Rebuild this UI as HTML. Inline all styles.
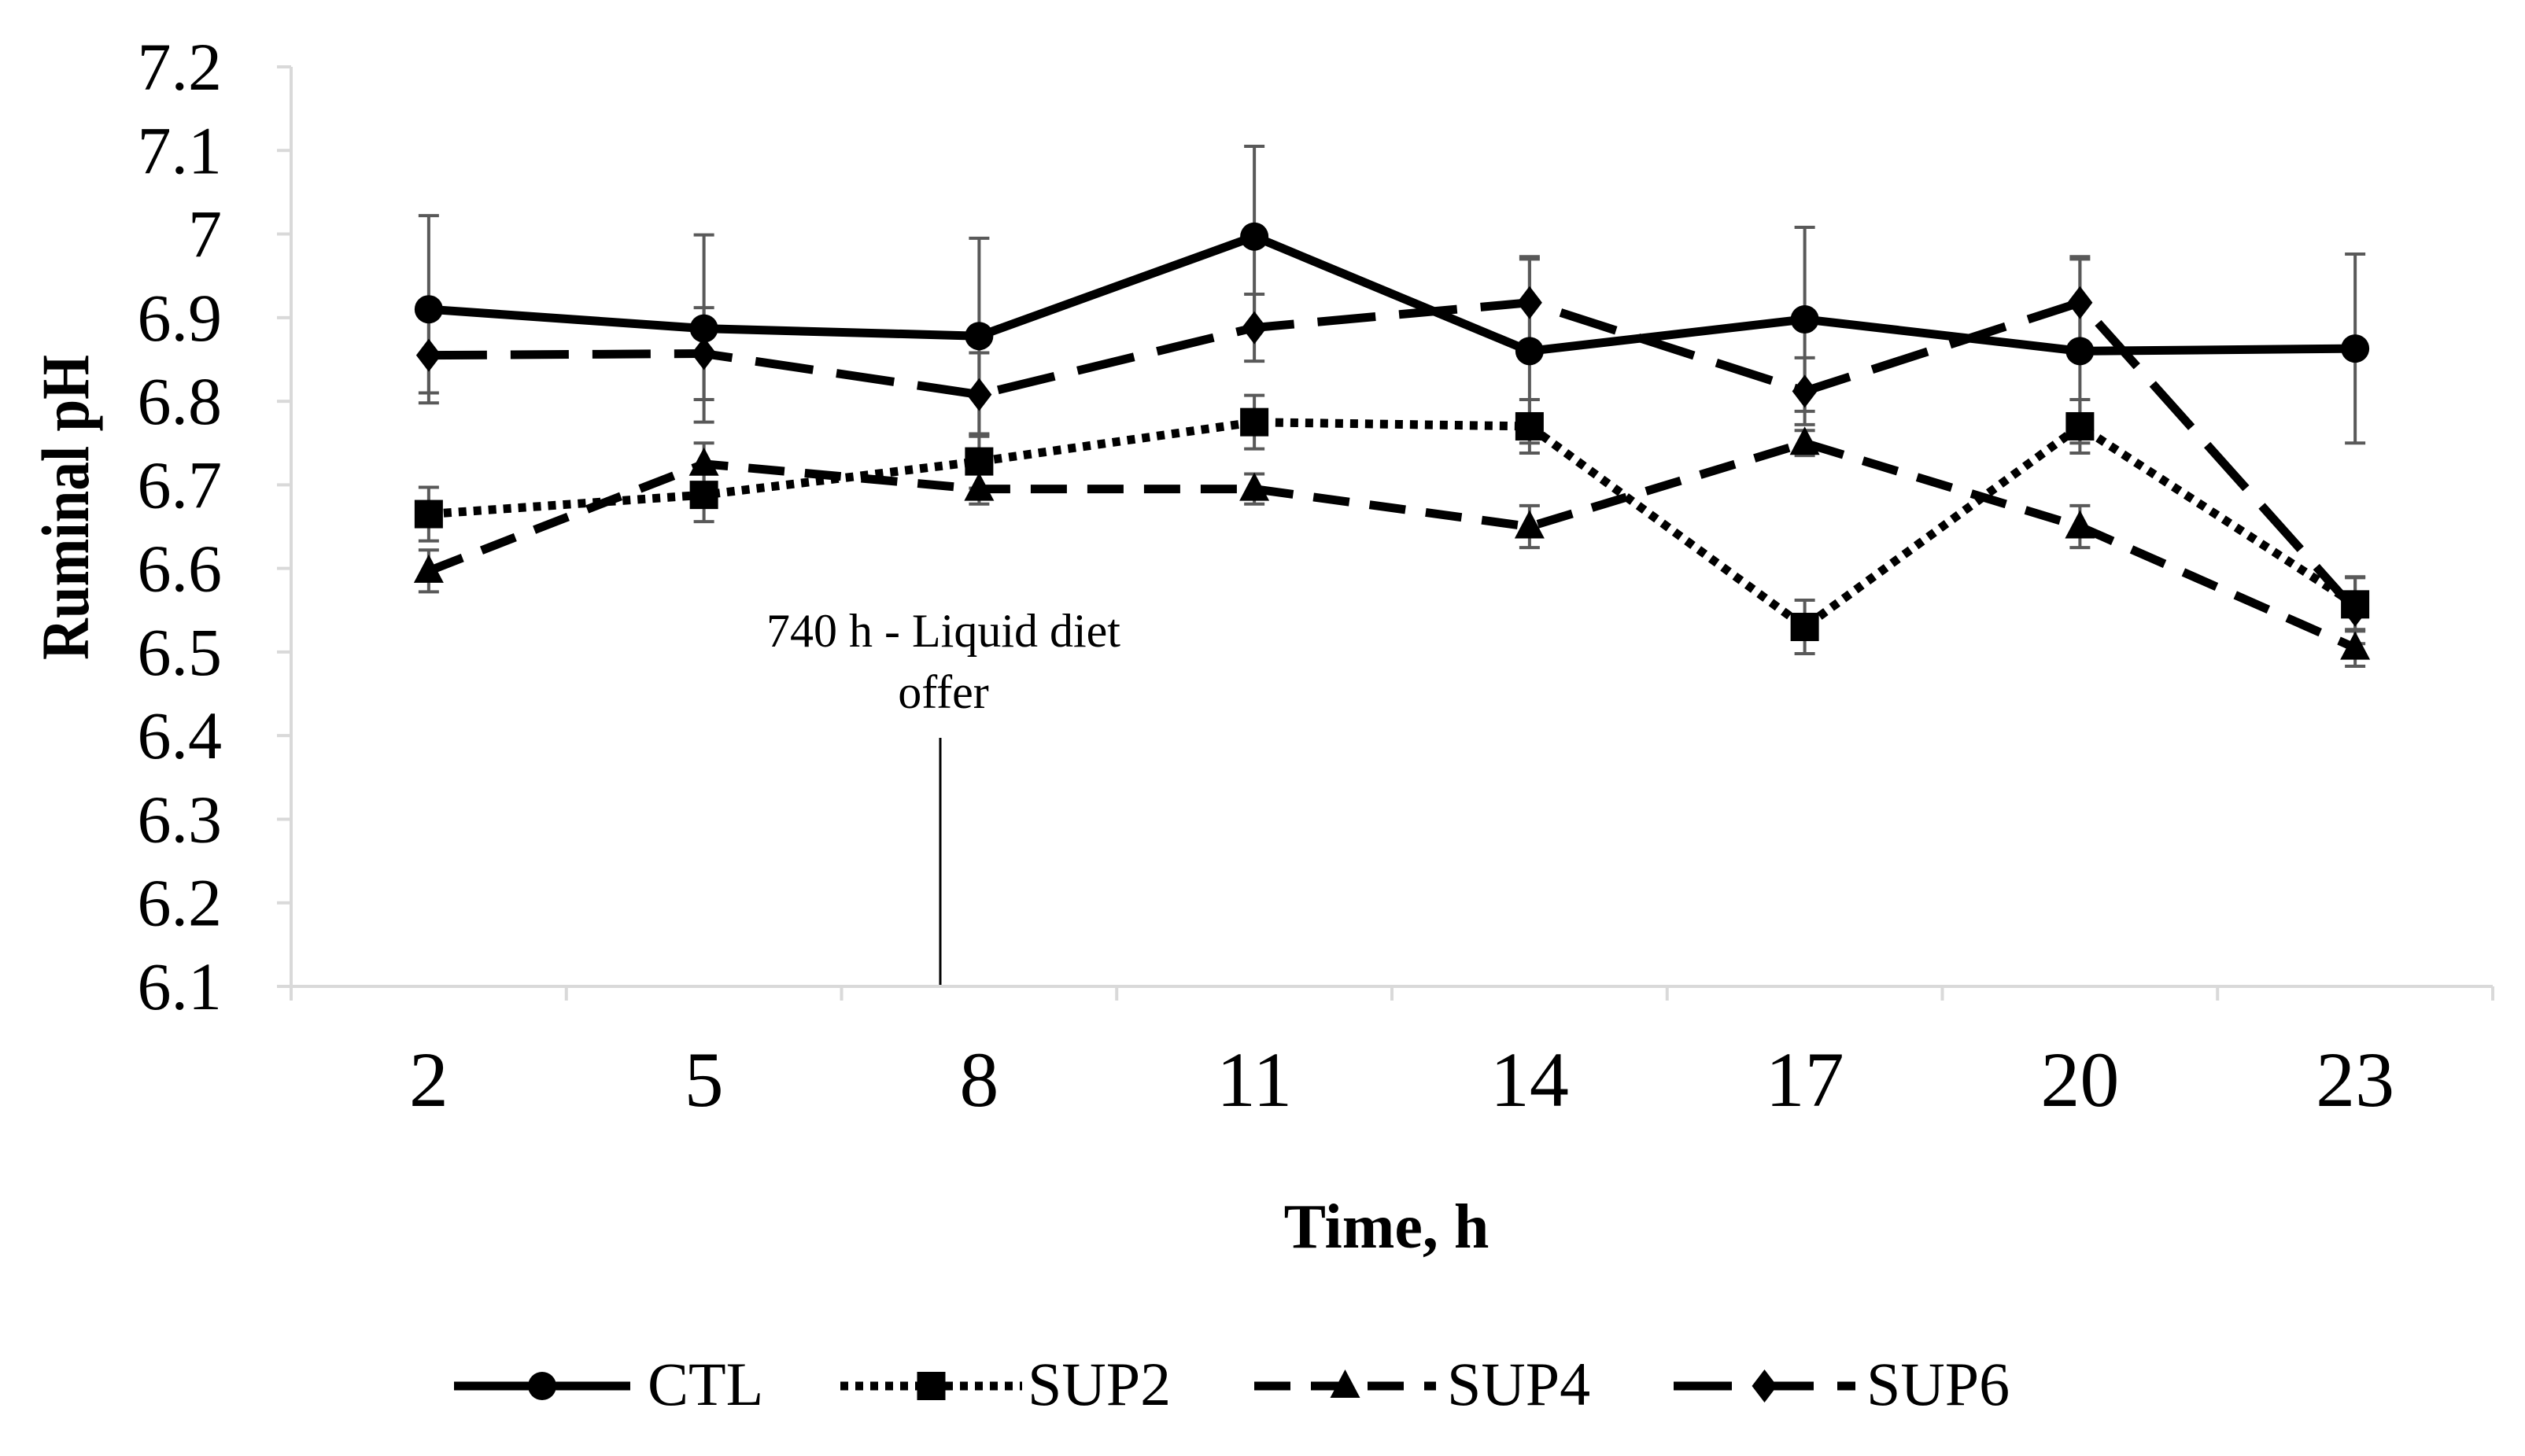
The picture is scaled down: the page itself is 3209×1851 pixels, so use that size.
<!DOCTYPE html>
<html><head><meta charset="utf-8"><style>
html,body{margin:0;padding:0;background:#fff;}
svg text{font-family:"Liberation Serif",serif;}
</style></head><body>
<svg id="chart" width="3209" height="1846" viewBox="0 0 3209 1846" xmlns="http://www.w3.org/2000/svg">
<rect width="3209" height="1846" fill="#fff"/>
<g id="axes"></g>
<g id="errs"></g>
<g id="series"></g>
<text x="0" y="0" transform="translate(112,645) rotate(-90) scale(0.85,1)" text-anchor="middle" font-size="86" font-weight="bold">Ruminal pH</text>
<text x="1762" y="1586" text-anchor="middle" font-size="80" font-weight="bold">Time, h</text>
<g>
<text x="1199" y="822" text-anchor="middle" font-size="60">740 h - Liquid diet</text>
<text x="1199" y="900" text-anchor="middle" font-size="60">offer</text>
<line x1="1195" y1="938" x2="1195" y2="1252" stroke="#000" stroke-width="3"/>
</g>
<g id="legend"></g>
</svg>
<script>
const categories = ["2","5","8","11","14","17","20","23"];
const yTicks = ["6.1","6.2","6.3","6.4","6.5","6.6","6.7","6.8","6.9","7","7.1","7.2"];
const ctlValues  = [6.91, 6.887, 6.878, 6.997, 6.86, 6.898, 6.86, 6.863];
const ctlErr     = [0.112, 0.112, 0.117, 0.108, 0.11, 0.11, 0.11, 0.113];
const sup2Values = [6.665, 6.688, 6.728, 6.775, 6.77, 6.53, 6.77, 6.557];
const sup2Err    = [0.032, 0.032, 0.032, 0.032, 0.032, 0.032, 0.032, 0.032];
const sup4Values = [6.597, 6.725, 6.695, 6.695, 6.65, 6.75, 6.65, 6.505];
const sup4Err    = [0.025, 0.025, 0.018, 0.018, 0.025, 0.015, 0.025, 0.022];
const sup6Values = [6.855, 6.857, 6.808, 6.888, 6.918, 6.812, 6.918, 6.55];
const sup6Err    = [0.045, 0.055, 0.05, 0.04, 0.055, 0.04, 0.055, 0.04];

const NS="http://www.w3.org/2000/svg";
const X0=370, X1=3168, Y0=1254, Y1=85, YMIN=6.1, YMAX=7.2;
const cw=(X1-X0)/categories.length;
function xScale(i){return X0+cw*(i+0.5);}
function yScale(v){return Y0-(v-YMIN)/(YMAX-YMIN)*(Y0-Y1);}
function mk(tag,attrs,parent){const e=document.createElementNS(NS,tag);for(const k in attrs)e.setAttribute(k,attrs[k]);parent.appendChild(e);return e;}

const axes=document.getElementById('axes');
let a=mk('line',{x1:X0,y1:Y1,x2:X0,y2:Y0,stroke:'#d9d9d9','stroke-width':4},axes);


a=mk('line',{x1:X0,y1:Y0,x2:X1,y2:Y0,stroke:'#d9d9d9','stroke-width':4},axes);


yTicks.forEach(t=>{
  const y=yScale(parseFloat(t));
  mk('line',{x1:X0-18,y1:y,x2:X0,y2:y,stroke:'#d9d9d9','stroke-width':4},axes);
  const tx=mk('text',{x:282,y:y+29,'text-anchor':'end','font-size':86},axes);
  tx.textContent=t;
  
  
});
for(let i=0;i<=categories.length;i++){
  const x=X0+cw*i;
  mk('line',{x1:x,y1:Y0,x2:x,y2:Y0+18,stroke:'#d9d9d9','stroke-width':4},axes);
}
categories.forEach((c,i)=>{
  const tx=mk('text',{x:xScale(i),y:1406,'text-anchor':'middle','font-size':100},axes);
  tx.textContent=c;
  
  
});

const seriesDefs=[
 {name:'CTL',vals:ctlValues,err:ctlErr,dash:'',marker:'circle'},
 {name:'SUP2',vals:sup2Values,err:sup2Err,dash:'10 9',marker:'square'},
 {name:'SUP4',vals:sup4Values,err:sup4Err,dash:'46 26',marker:'triangle'},
 {name:'SUP6',vals:sup6Values,err:sup6Err,dash:'74 30',marker:'diamond'}
];
function marker(type,x,y,parent){
  let e;
  if(type==='circle')e=mk('circle',{cx:x,cy:y,r:18,fill:'#000'},parent);
  else if(type==='square')e=mk('rect',{x:x-18,y:y-18,width:36,height:36,fill:'#000'},parent);
  else if(type==='triangle')e=mk('polygon',{points:`${x},${y-21} ${x+19},${y+15} ${x-19},${y+15}`,fill:'#000'},parent);
  else e=mk('polygon',{points:`${x},${y-21} ${x+16},${y} ${x},${y+21} ${x-16},${y}`,fill:'#000'},parent);
  return e;
}
const errs=document.getElementById('errs'), ser=document.getElementById('series');
seriesDefs.forEach(s=>{
  s.vals.forEach((v,i)=>{
    const x=xScale(i), yt=yScale(v+s.err[i]), yb=yScale(v-s.err[i]);
    const g=mk('g',{stroke:'#595959','stroke-width':4},errs);
    
    
    mk('line',{x1:x,y1:yt,x2:x,y2:yb},g);
    mk('line',{x1:x-13,y1:yt,x2:x+13,y2:yt},g);
    mk('line',{x1:x-13,y1:yb,x2:x+13,y2:yb},g);
  });
  const pts=s.vals.map((v,i)=>xScale(i)+','+yScale(v)).join(' ');
  const pl=mk('polyline',{points:pts,fill:'none',stroke:'#000','stroke-width':11,'stroke-linejoin':'round'},ser);
  if(s.dash)pl.setAttribute('stroke-dasharray',s.dash);
  
  
  s.vals.forEach((v,i)=>{
    const m=marker(s.marker,xScale(i),yScale(v),ser);
    
    
  });
});

const leg=document.getElementById('legend');
const legPos=[[577,801,823],[1068,1299,1306],[1594,1825,1839],[2127,2358,2372]];
seriesDefs.forEach((s,k)=>{
  const [l1,l2,tx]=legPos[k], y=1762;
  const g=mk('g',{},leg);
  
  
  const ln=mk('line',{x1:l1,y1:y,x2:l2,y2:y,stroke:'#000','stroke-width':11},g);
  if(s.dash)ln.setAttribute('stroke-dasharray',s.dash);
  marker(s.marker,(l1+l2)/2,y,g);
  const t=mk('text',{x:tx,y:1786,'font-size':78},g);
  t.textContent=s.name;
});
</script>
</body></html>
